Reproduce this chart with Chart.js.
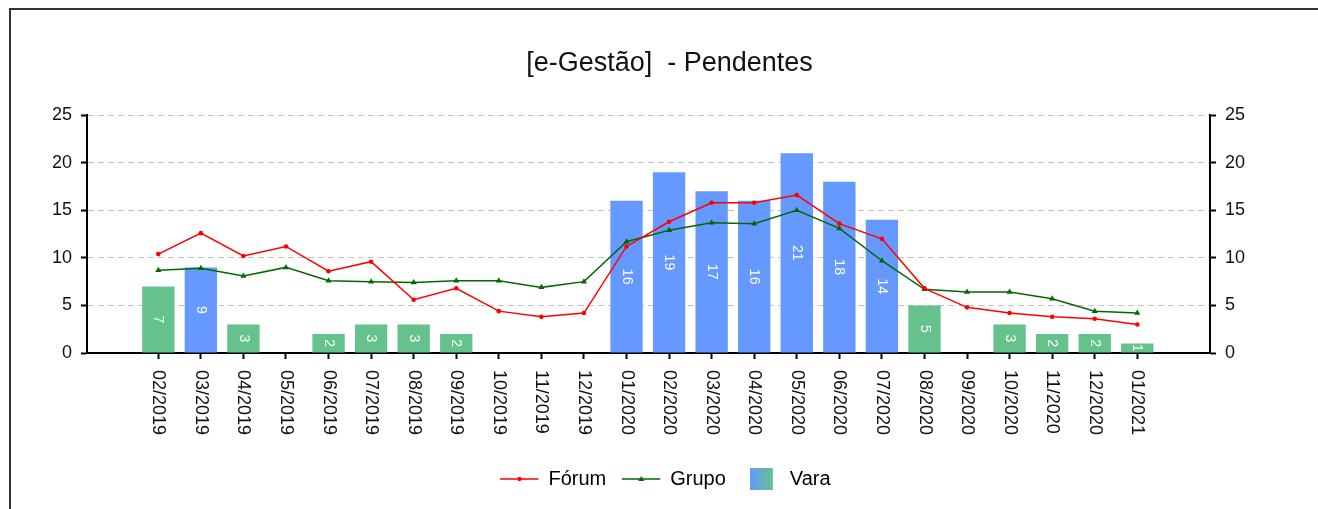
<!DOCTYPE html>
<html>
<head>
<meta charset="utf-8">
<title>[e-Gestão] - Pendentes</title>
<script src="https://cdn.jsdelivr.net/npm/chart.js@4.4.1/dist/chart.umd.min.js"></script>
<style>
  html, body { margin: 0; padding: 0; background: #fff; overflow: hidden; }
  #wrap { position: relative; width: 1318px; height: 509px; }
  #frame { position: absolute; left: 9px; top: 8px; width: 1400px; height: 600px;
           border-top: 2px solid #333; border-left: 2px solid #333; pointer-events: none; }
  canvas { position: absolute; left: 0; top: 0; }
</style>
</head>
<body>
<div id="wrap">
  <canvas id="chart" width="1318" height="509"></canvas>
  <div id="frame"></div>
</div>
<script>
//-------------------- Dados --------------------
const meses = [
  "02/2019", "03/2019", "04/2019", "05/2019", "06/2019", "07/2019", "08/2019", "09/2019",
  "10/2019", "11/2019", "12/2019", "01/2020", "02/2020", "03/2020", "04/2020", "05/2020",
  "06/2020", "07/2020", "08/2020", "09/2020", "10/2020", "11/2020", "12/2020", "01/2021"
];
const forum = [10.4, 12.6, 10.2, 11.2, 8.6, 9.6, 5.6, 6.8, 4.4, 3.8, 4.2, 11.2,
               13.8, 15.8, 15.8, 16.6, 13.6, 12.0, 6.8, 4.8, 4.2, 3.8, 3.6, 3.0];
const grupo = [8.7, 8.9, 8.1, 9.0, 7.6, 7.5, 7.4, 7.6, 7.6, 6.9, 7.5, 11.7,
               12.9, 13.7, 13.6, 15.0, 13.1, 9.7, 6.7, 6.4, 6.4, 5.7, 4.4, 4.2];
const vara = [7, 9, 3, 0, 2, 3, 3, 2, 0, 0, 0, 16,
              19, 17, 16, 21, 18, 14, 5, 0, 3, 2, 2, 1];
const yTicks = [0, 5, 10, 15, 20, 25];

//-------------------- Estilo --------------------
const FONT = "'Liberation Sans', Arial, sans-serif";
const AZUL = "rgb(102, 153, 255)";
const VERDE = "rgb(102, 194, 140)";
const VERMELHO = "#ff0000";
const VERDE_ESCURO = "#006a00";

Chart.defaults.font.family = FONT;
Chart.defaults.color = "#111";

// vara acima do grupo fica azul, senão verde
const coresVara = vara.map((v, i) => (v > grupo[i] ? AZUL : VERDE));

const toXY = (arr) => arr.map((v, i) => ({ x: i, y: v }));

// símbolos da legenda
function simboloLinha(cor, estilo) {
  const c = document.createElement("canvas");
  c.width = 46;
  c.height = 20;
  const ctx = c.getContext("2d");
  ctx.strokeStyle = cor;
  ctx.fillStyle = cor;
  ctx.lineWidth = 1.5;
  ctx.beginPath();
  ctx.moveTo(0, 10);
  ctx.lineTo(38, 10);
  ctx.stroke();
  ctx.beginPath();
  if (estilo === "triangle") {
    ctx.moveTo(19, 7);
    ctx.lineTo(22, 12);
    ctx.lineTo(16, 12);
    ctx.closePath();
  } else {
    ctx.arc(19, 10, 2.2, 0, Math.PI * 2);
  }
  ctx.fill();
  return c;
}

function simboloVara() {
  const c = document.createElement("canvas");
  c.width = 30;
  c.height = 22;
  const ctx = c.getContext("2d");
  const g = ctx.createLinearGradient(0, 0, 23, 0);
  g.addColorStop(0, AZUL);
  g.addColorStop(1, VERDE);
  ctx.fillStyle = g;
  ctx.fillRect(0, 0, 23, 22);
  return c;
}

// rótulos do eixo x (verticais) e valores dentro das barras
const rotulosPlugin = {
  id: "rotulos",
  afterDatasetsDraw(chart) {
    const ctx = chart.ctx;
    const meta = chart.getDatasetMeta(2);
    ctx.save();
    ctx.font = "14px " + FONT;
    ctx.fillStyle = "#fff";
    ctx.textAlign = "center";
    ctx.textBaseline = "middle";
    meta.data.forEach((bar, i) => {
      if (!vara[i]) return;
      ctx.save();
      ctx.translate(bar.x, (bar.y + bar.base) / 2);
      ctx.rotate(Math.PI / 2);
      ctx.fillText(String(vara[i]), 0, 0);
      ctx.restore();
    });
    ctx.restore();
  },
  afterDraw(chart) {
    const ctx = chart.ctx;
    const xScale = chart.scales.x;
    ctx.save();
    ctx.font = "18px " + FONT;
    ctx.fillStyle = "#111";
    ctx.textAlign = "left";
    ctx.textBaseline = "middle";
    meses.forEach((m, i) => {
      ctx.save();
      ctx.translate(xScale.getPixelForValue(i), xScale.top + 17);
      ctx.rotate(Math.PI / 2);
      ctx.fillText(m, 0, 0);
      ctx.restore();
    });
    ctx.restore();
  }
};

const eixoY = (pos) => ({
  position: pos,
  min: 0,
  max: 25,
  afterBuildTicks: (s) => { s.ticks = yTicks.map((v) => ({ value: v })); },
  afterFit: (s) => { s.width = pos === "left" ? 66 : 108; },
  ticks: { font: { size: 18 }, color: "#111", padding: 9 },
  border: { display: true, color: "#000", width: 2, dash: [6, 4] },
  grid: {
    drawOnChartArea: pos === "left",
    color: "#c4c4c4",
    lineWidth: 1,
    drawTicks: true,
    tickLength: 6,
    tickColor: "#000",
    tickWidth: 2,
    tickBorderDash: []
  }
});

const chart = new Chart(document.getElementById("chart"), {
  type: "bar",
  data: {
    datasets: [
      {
        type: "line",
        label: "Fórum",
        data: toXY(forum),
        borderColor: VERMELHO,
        backgroundColor: VERMELHO,
        borderWidth: 1.5,
        pointStyle: "circle",
        pointRadius: 2.3,
        pointBorderWidth: 0,
        order: 1
      },
      {
        type: "line",
        label: "Grupo",
        data: toXY(grupo),
        borderColor: VERDE_ESCURO,
        backgroundColor: VERDE_ESCURO,
        borderWidth: 1.5,
        pointStyle: "triangle",
        pointRadius: 3.5,
        pointBorderWidth: 0,
        order: 1
      },
      {
        label: "Vara",
        data: toXY(vara),
        backgroundColor: coresVara,
        borderWidth: 0,
        categoryPercentage: 1,
        barPercentage: 0.76,
        order: 2
      }
    ]
  },
  options: {
    responsive: false,
    animation: false,
    devicePixelRatio: 1,
    layout: { padding: { left: 21, right: 0, top: 0, bottom: 10 } },
    scales: {
      x: {
        type: "linear",
        offset: false,
        min: -1.675,
        max: 24.708,
        afterBuildTicks: (s) => { s.ticks = meses.map((_, i) => ({ value: i })); },
        afterFit: (s) => { s.height = 92; },
        ticks: { display: false },
        border: { display: true, color: "#000", width: 2 },
        grid: {
          offset: false,
          drawOnChartArea: false,
          drawTicks: true,
          tickLength: 6,
          tickColor: "#000",
          tickWidth: 2
        }
      },
      y: eixoY("left"),
      y2: eixoY("right")
    },
    plugins: {
      title: {
        display: true,
        text: "[e-Gestão]  - Pendentes",
        color: "#111",
        font: { size: 27, weight: "normal" },
        padding: { top: 47.8, bottom: 35 }
      },
      legend: {
        position: "bottom",
        labels: {
          font: { size: 20 },
          color: "#111",
          usePointStyle: true,
          pointStyleWidth: 30,
          padding: 24,
          generateLabels: () => [
            { text: "Fórum", pointStyle: simboloLinha(VERMELHO, "circle"), datasetIndex: 0, hidden: false, lineWidth: 0 },
            { text: "Grupo", pointStyle: simboloLinha(VERDE_ESCURO, "triangle"), datasetIndex: 1, hidden: false, lineWidth: 0 },
            { text: "Vara", pointStyle: simboloVara(), datasetIndex: 2, hidden: false, lineWidth: 0 }
          ]
        }
      },
      tooltip: { enabled: false }
    }
  },
  plugins: [rotulosPlugin]
});
</script>
</body>
</html>
